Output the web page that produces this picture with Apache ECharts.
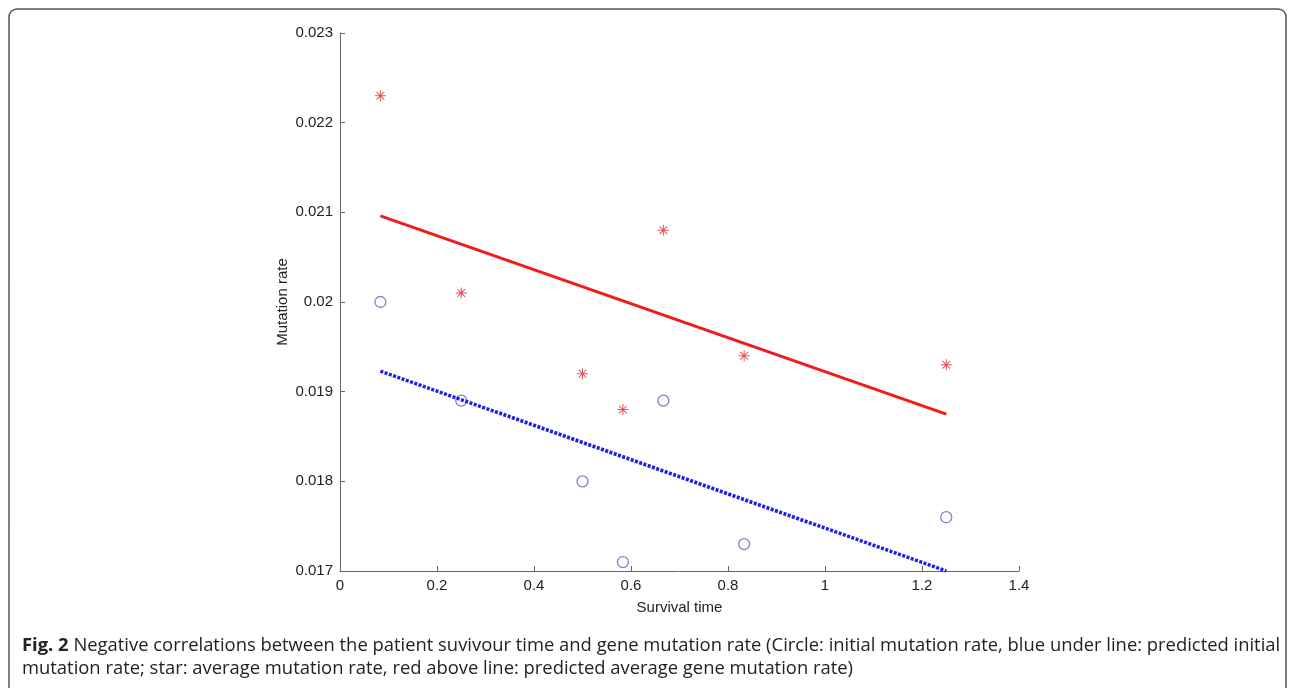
<!DOCTYPE html>
<html>
<head>
  <meta charset="utf-8" />
  <title>Fig. 2</title>
  <script src="https://cdn.jsdelivr.net/npm/echarts@6/dist/echarts.min.js"></script>
  <style>
    html, body {
      height: 100%;
      margin: 0;
      padding: 0;
      overflow: hidden;
      background: #fff;
    }

    #main {
      width: 1293px;
      height: 688px;
    }
  </style>
</head>
<body>
  <div id="main"></div>

  <script type="text/javascript">
    // survival time (x) for each patient
    const survivalTime = [0.0833, 0.25, 0.5, 0.5833, 0.6667, 0.8333, 1.25];
    // star: average mutation rate
    const avgRate = [0.0223, 0.0201, 0.0192, 0.0188, 0.0208, 0.0194, 0.0193];
    // circle: initial mutation rate
    const initRate = [0.0200, 0.0189, 0.0180, 0.0171, 0.0189, 0.0173, 0.0176];
    // fitted lines, end points
    const fitX = [0.0833, 1.25];
    const avgFit = [0.02096, 0.01875];
    const initFit = [0.01923, 0.01700];

    const pairs = (xs, ys) => xs.map((x, i) => [x, ys[i]]);

    // asterisk drawn as filled thin bars
    const starPath = 'path://M-0.9,-10L0.9,-10L0.9,10L-0.9,10Z' +
      'M-10,-0.9L10,-0.9L10,0.9L-10,0.9Z' +
      'M-6.4,-7.6L7.6,6.4L6.4,7.6L-7.6,-6.4Z' +
      'M-7.6,6.4L6.4,-7.6L7.6,-6.4L-6.4,7.6Z';

    const axisFont = 'Liberation Sans, Arial, sans-serif';

    const chart = echarts.init(document.getElementById('main'));

    const option = {
      backgroundColor: '#fff',
      animation: false,
      grid: { left: 340, right: 274, top: 33, bottom: 117 },
      xAxis: {
        type: 'value',
        min: 0,
        max: 1.4,
        interval: 0.2,
        name: 'Survival time',
        nameLocation: 'middle',
        nameGap: 29,
        nameTextStyle: { fontFamily: axisFont, fontSize: 15, color: '#222' },
        axisLine: { lineStyle: { color: '#666', width: 1 } },
        axisTick: { inside: true, length: 5, lineStyle: { color: '#666' } },
        axisLabel: { fontFamily: axisFont, fontSize: 15, color: '#222', margin: 7 },
        splitLine: { show: false }
      },
      yAxis: {
        type: 'value',
        min: 0.017,
        max: 0.023,
        interval: 0.001,
        name: 'Mutation rate',
        nameLocation: 'middle',
        nameGap: 50,
        nameMoveOverlap: false,
        nameTextStyle: { fontFamily: axisFont, fontSize: 15, color: '#222' },
        axisLine: { show: true, lineStyle: { color: '#666', width: 1 } },
        axisTick: { show: true, inside: true, length: 5, lineStyle: { color: '#666' } },
        axisLabel: { fontFamily: axisFont, fontSize: 15, color: '#222', margin: 7 },
        splitLine: { show: false }
      },
      series: [
        {
          name: 'predicted average',
          type: 'line',
          data: pairs(fitX, avgFit),
          symbol: 'none',
          lineStyle: { color: '#f21a1a', width: 3 }
        },
        {
          name: 'predicted initial',
          type: 'line',
          data: pairs(fitX, initFit),
          symbol: 'none',
          lineStyle: { color: '#1f1fe6', width: 3.5, type: [3, 1.5] }
        },
        {
          name: 'average',
          type: 'scatter',
          data: pairs(survivalTime, avgRate),
          symbol: starPath,
          symbolSize: 11,
          itemStyle: { color: '#e0262e' }
        },
        {
          name: 'initial',
          type: 'scatter',
          data: pairs(survivalTime, initRate),
          symbol: 'circle',
          symbolSize: 11,
          itemStyle: { color: 'rgba(0,0,0,0)', borderColor: '#6262c4', borderWidth: 1.3 }
        }
      ],
      graphic: [
        {
          type: 'rect',
          shape: { x: 9, y: 9, width: 1277, height: 740, r: 8 },
          style: { fill: 'none', stroke: '#555', lineWidth: 1.5 },
          silent: true
        },
        {
          type: 'text',
          left: 22,
          top: 634,
          style: {
            text: '{b|Fig. 2} Negative correlations between the patient suvivour time and gene mutation rate (Circle: initial mutation rate, blue under line: predicted initial\nmutation rate; star: average mutation rate, red above line: predicted average gene mutation rate)',
            font: '18.4px "Open Sans", sans-serif',
            fill: '#222',
            lineHeight: 23,
            rich: {
              b: { fontWeight: 'bold', fontSize: 18.4, fontFamily: 'Open Sans, sans-serif', fill: '#222' }
            }
          }
        }
      ]
    };

    chart.setOption(option);
  </script>
</body>
</html>
